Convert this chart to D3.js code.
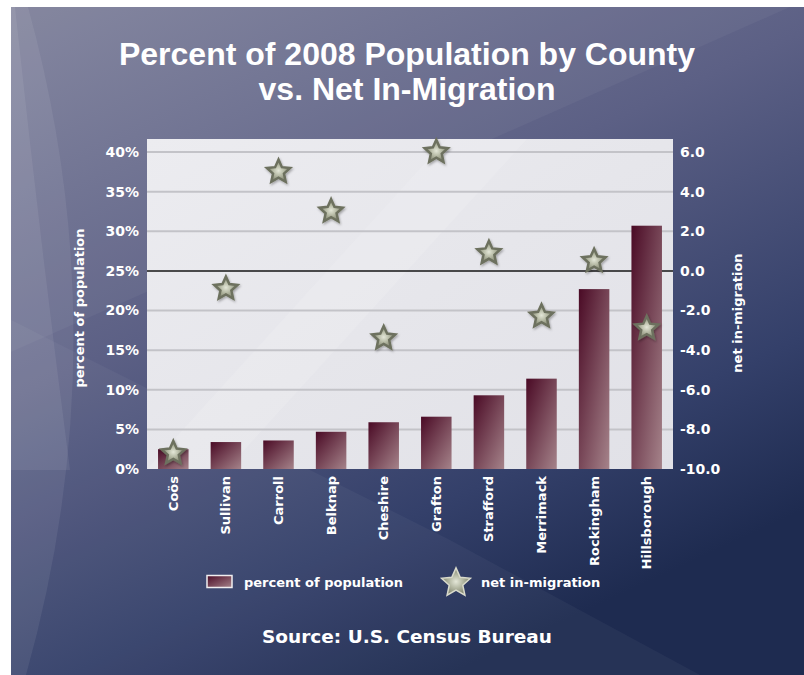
<!DOCTYPE html>
<html>
<head>
<meta charset="utf-8">
<script src="https://cdn.jsdelivr.net/npm/d3@7"></script>
<style>
  html, body { margin: 0; padding: 0; background: #ffffff; }
  svg { display: block; }
  text { fill: #ffffff; font-family: "DejaVu Sans", sans-serif; font-weight: 700; }
</style>
</head>
<body>
<svg id="chart" width="804" height="675"></svg>
<script>
// County data, New Hampshire 2008
const counties = ["Coös", "Sullivan", "Carroll", "Belknap", "Cheshire",
                  "Grafton", "Strafford", "Merrimack", "Rockingham", "Hillsborough"];
const pctPopulation = [2.5, 3.4, 3.6, 4.7, 5.9, 6.6, 9.3, 11.4, 22.7, 30.7];
const netMigration  = [-9.2, -0.9, 5.0, 3.0, -3.4, 6.0, 0.9, -2.3, 0.5, -2.9];

const pctTicks       = [0, 5, 10, 15, 20, 25, 30, 35, 40];
const migrationTicks = [-10, -8, -6, -4, -2, 0, 2, 4, 6];

const titleLines   = ["Percent of 2008 Population by County", "vs. Net In-Migration"];
const leftTitle    = "percent of population";
const rightTitle   = "net in-migration";
const legendLabels = ["percent of population", "net in-migration"];
const sourceNote   = "Source: U.S. Census Bureau";

const svg = d3.select("#chart");
const W = 804, H = 675;
const plot = { left: 147, right: 673, top: 139, bottom: 469 };

const defs = svg.append("defs");

// backdrop gradient
const bg = defs.append("linearGradient").attr("id", "bgGrad")
  .attr("x1", 0).attr("y1", 0).attr("x2", 0.55).attr("y2", 1);
bg.append("stop").attr("offset", 0).attr("stop-color", "#80829c");
bg.append("stop").attr("offset", 0.45).attr("stop-color", "#5c6085");
bg.append("stop").attr("offset", 0.8).attr("stop-color", "#34406a");
bg.append("stop").attr("offset", 1).attr("stop-color", "#1e2b50");

// plot area gradient
const pg = defs.append("linearGradient").attr("id", "plotGrad")
  .attr("x1", 0).attr("y1", 0).attr("x2", 1).attr("y2", 1);
pg.append("stop").attr("offset", 0).attr("stop-color", "#ececf0");
pg.append("stop").attr("offset", 0.5).attr("stop-color", "#e6e6eb");
pg.append("stop").attr("offset", 1).attr("stop-color", "#e1e1e7");

// bar gradient
const barGrad = defs.append("linearGradient").attr("id", "barGrad")
  .attr("x1", 0).attr("y1", 0).attr("x2", 1).attr("y2", 1);
barGrad.append("stop").attr("offset", 0).attr("stop-color", "#4a0a25");
barGrad.append("stop").attr("offset", 1).attr("stop-color", "#a5838a");

// star gradients
const starGrad = defs.append("radialGradient").attr("id", "starGrad")
  .attr("cx", 0.5).attr("cy", 0.5).attr("r", 0.5);
starGrad.append("stop").attr("offset", 0).attr("stop-color", "#e4e7d8");
starGrad.append("stop").attr("offset", 0.45).attr("stop-color", "#b7bba6");
starGrad.append("stop").attr("offset", 1).attr("stop-color", "#7f836d");

const shadow = defs.append("filter").attr("id", "shadow")
  .attr("x", -0.5).attr("y", -0.5).attr("width", 2).attr("height", 2);
shadow.append("feDropShadow").attr("dx", 1).attr("dy", 1.5)
  .attr("stdDeviation", 1.2).attr("flood-color", "#000").attr("flood-opacity", 0.3);

// backdrop panel with soft swooshes
svg.append("rect").attr("x", 11).attr("y", 7).attr("width", W - 11).attr("height", H - 7)
  .attr("fill", "url(#bgGrad)");
const deco = svg.append("g");
deco.append("path").attr("d", "M11,7 L790,7 L11,352 Z")
  .attr("fill", "#ffffff").attr("opacity", 0.04);
deco.append("path").attr("d", "M11,320 L310,470 L450,540 L700,675 L11,675 Z")
  .attr("fill", "#ffffff").attr("opacity", 0.04);
deco.append("path").attr("d", "M11,7 L28,7 Q120,340 26,675 L11,675 Z")
  .attr("fill", "#ffffff").attr("opacity", 0.07);
deco.append("path").attr("d", "M11,7 L15,7 Q40,240 70,470 L11,470 Z")
  .attr("fill", "#ffffff").attr("opacity", 0.07);

// scales
const x = d3.scaleBand().domain(counties)
  .range([plot.left, plot.right]).paddingInner(0.42).paddingOuter(0.21);
const yPct = d3.scaleLinear().domain([0, 40]).range([plot.bottom, 152]);
const yMig = d3.scaleLinear().domain([-10, 6]).range([plot.bottom, 152]);

// plot area
svg.append("rect")
  .attr("x", plot.left).attr("y", plot.top)
  .attr("width", plot.right - plot.left).attr("height", plot.bottom - plot.top)
  .attr("fill", "url(#plotGrad)");
svg.append("path")
  .attr("d", `M${plot.left},${plot.bottom} L${plot.left + 300},${plot.top} L${plot.left + 380},${plot.top} L${plot.left + 80},${plot.bottom} Z`)
  .attr("fill", "#ffffff").attr("opacity", 0.12);

// gridlines
svg.append("g").selectAll("line")
  .data(pctTicks.filter(t => t > 0 && t !== 25))
  .join("line")
  .attr("x1", plot.left).attr("x2", plot.right)
  .attr("y1", d => yPct(d)).attr("y2", d => yPct(d))
  .attr("stroke", "#c3c3c8").attr("stroke-width", 2);

// zero line of net in-migration
svg.append("line")
  .attr("x1", plot.left).attr("x2", plot.right)
  .attr("y1", yMig(0)).attr("y2", yMig(0))
  .attr("stroke", "#151515").attr("stroke-width", 1.5);

// bars
svg.append("g").selectAll("rect")
  .data(counties)
  .join("rect")
  .attr("x", d => x(d))
  .attr("width", x.bandwidth())
  .attr("y", (d, i) => yPct(pctPopulation[i]))
  .attr("height", (d, i) => yPct(0) - yPct(pctPopulation[i]))
  .attr("fill", "url(#barGrad)");

// five-point star symbol
const starType = {
  draw(ctx, size) {
    const R = Math.sqrt(size), r = R * 0.47;
    for (let i = 0; i < 10; i++) {
      const a = -Math.PI / 2 + i * Math.PI / 5;
      const rad = i % 2 ? r : R;
      const px = rad * Math.cos(a), py = rad * Math.sin(a);
      if (i) ctx.lineTo(px, py); else ctx.moveTo(px, py);
    }
    ctx.closePath();
  }
};
const star = d3.symbol().type(starType).size(150);

svg.append("g").selectAll("path")
  .data(counties)
  .join("path")
  .attr("d", star)
  .attr("transform", (d, i) => `translate(${x(d) + x.bandwidth() / 2},${yMig(netMigration[i])})`)
  .attr("fill", "url(#starGrad)")
  .attr("stroke", "#6d715e").attr("stroke-width", 2.5).attr("stroke-linejoin", "miter")
  .attr("filter", "url(#shadow)");

// axes
const minusFmt = d => d3.format(".1f")(d).replace("\u2212", "-");

const leftAxis = svg.append("g")
  .attr("transform", `translate(${plot.left},0)`)
  .call(d3.axisLeft(yPct).tickValues(pctTicks).tickFormat(d => d + "%").tickSize(0).tickPadding(8));
const rightAxis = svg.append("g")
  .attr("transform", `translate(${plot.right},0)`)
  .call(d3.axisRight(yMig).tickValues(migrationTicks).tickFormat(minusFmt).tickSize(0).tickPadding(7));
const bottomAxis = svg.append("g")
  .attr("transform", `translate(0,${plot.bottom})`)
  .call(d3.axisBottom(x).tickSize(0));

[leftAxis, rightAxis, bottomAxis].forEach(g => {
  g.select(".domain").remove();
  g.selectAll("text").attr("fill", "#ffffff")
    .style("font-family", "'DejaVu Sans', sans-serif").style("font-weight", 700);
});
leftAxis.selectAll("text").style("font-size", "14px");
rightAxis.selectAll("text").style("font-size", "14px");
bottomAxis.selectAll("text")
  .style("font-size", "13px")
  .attr("transform", "rotate(-90)")
  .attr("text-anchor", "end")
  .attr("x", -7).attr("y", 0).attr("dy", "0.35em");

// axis titles
svg.append("text")
  .attr("transform", `translate(84,${(plot.top + plot.bottom) / 2 + 4}) rotate(-90)`)
  .attr("text-anchor", "middle").style("font-size", "13px")
  .text(leftTitle);
svg.append("text")
  .attr("transform", `translate(742,${(plot.top + plot.bottom) / 2 + 9}) rotate(-90)`)
  .attr("text-anchor", "middle").style("font-size", "13px")
  .text(rightTitle);

// title
svg.append("g").selectAll("text")
  .data(titleLines)
  .join("text")
  .attr("x", 407).attr("y", (d, i) => 65 + i * 35)
  .attr("text-anchor", "middle")
  .style("font-family", "'Liberation Sans', Arial, sans-serif")
  .style("font-size", "32px")
  .text(d => d);

// legend
const legend = svg.append("g");
legend.append("rect")
  .attr("x", 207).attr("y", 575.5).attr("width", 25).attr("height", 12)
  .attr("fill", "url(#barGrad)").attr("stroke", "#f0eef0").attr("stroke-width", 1.5);
legend.append("text").attr("x", 244).attr("y", 587).style("font-size", "13px")
  .text(legendLabels[0]);
legend.append("path")
  .attr("d", d3.symbol().type(starType).size(230)())
  .attr("transform", "translate(456,583)")
  .attr("fill", "url(#starGrad)")
  .attr("stroke", "#d9dacb").attr("stroke-width", 1.5);
legend.append("text").attr("x", 481).attr("y", 587).style("font-size", "13px")
  .text(legendLabels[1]);

// source note
svg.append("text")
  .attr("x", 407).attr("y", 643).attr("text-anchor", "middle")
  .style("font-size", "18.5px")
  .text(sourceNote);
</script>
</body>
</html>
